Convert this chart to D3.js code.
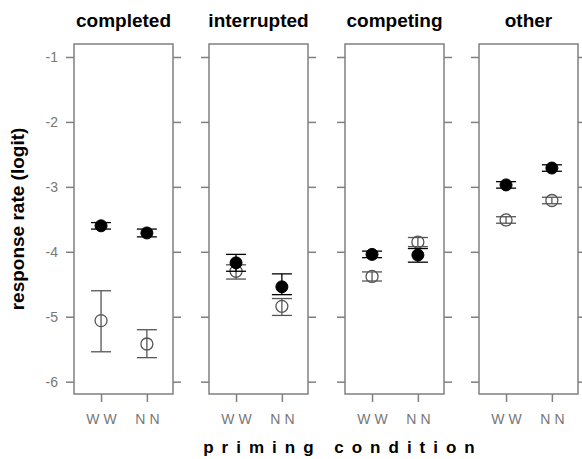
<!DOCTYPE html>
<html>
<head>
<meta charset="utf-8">
<script src="https://cdnjs.cloudflare.com/ajax/libs/d3/7.8.5/d3.min.js"></script>
<style>
  body { margin: 0; background: #fff; }
  svg { display: block; font-family: "Liberation Sans", Arial, sans-serif; }
</style>
</head>
<body>
<svg width="582" height="459"></svg>
<script>
const width = 582, height = 459;
const svg = d3.select("svg");

// panels and conditions
const panels = ["completed", "interrupted", "competing", "other"];
const conditions = ["WW", "NN"];
const yTicks = [-1, -2, -3, -4, -5, -6];

// filled points (mean, lower, upper) per panel, WW then NN
const filledMean  = [[-3.60, -3.71], [-4.17, -4.54], [-4.04, -4.05], [-2.97, -2.71]];
const filledLow   = [[-3.65, -3.77], [-4.30, -4.66], [-4.09, -4.16], [-3.02, -2.76]];
const filledHigh  = [[-3.55, -3.65], [-4.04, -4.34], [-3.99, -3.95], [-2.92, -2.66]];

// open points (mean, lower, upper)
const openMean = [[-5.06, -5.42], [-4.30, -4.84], [-4.38, -3.85], [-3.51, -3.21]];
const openLow  = [[-5.54, -5.63], [-4.42, -4.98], [-4.45, -3.92], [-3.56, -3.26]];
const openHigh = [[-4.60, -5.20], [-4.20, -4.72], [-4.31, -3.78], [-3.46, -3.16]];

const panelLeft = [74, 209, 345, 479];
const panelW = 99;
const plotTop = 44, plotBottom = 394;

const yScale = d3.scaleLinear().domain([-6.19, -0.8]).range([plotBottom, plotTop]);
const frameColor = "#808080";

panels.forEach((name, p) => {
    const x = d3.scaleLinear().domain([0.41, 2.57]).range([panelLeft[p], panelLeft[p] + panelW]);
    const g = svg.append("g");

    // frame
    g.append("rect")
        .attr("x", panelLeft[p]).attr("y", plotTop)
        .attr("width", panelW).attr("height", plotBottom - plotTop)
        .attr("fill", "none").attr("stroke", frameColor).attr("stroke-width", 1.5);

    // left and right ticks
    const left = g.append("g").attr("transform", `translate(${panelLeft[p]},0)`)
        .call(d3.axisLeft(yScale).tickValues(yTicks).tickSize(8)
            .tickFormat(d => p === 0 ? String(d) : ""));
    const right = g.append("g").attr("transform", `translate(${panelLeft[p] + panelW},0)`)
        .call(d3.axisRight(yScale).tickValues(yTicks).tickSize(8).tickFormat(""));
    [left, right].forEach(a => {
        a.select(".domain").remove();
        a.selectAll("line").attr("stroke", frameColor).attr("stroke-width", 1.5);
    });
    left.selectAll("text").attr("fill", "#777").style("font-size", "14px").attr("x", -16);

    // bottom ticks
    const xb = g.append("g").attr("transform", `translate(0,${plotBottom})`)
        .call(d3.axisBottom(x).tickValues([1, 2]).tickSize(8).tickFormat((d, i) => conditions[i]));
    xb.select(".domain").remove();
    xb.selectAll("line").attr("stroke", frameColor).attr("stroke-width", 1.5);
    xb.selectAll("text").attr("fill", "#777").attr("y", 20).attr("dx", "2px")
        .style("font-size", "14px").style("letter-spacing", "4px");

    // title
    svg.append("text")
        .attr("x", panelLeft[p] + panelW / 2).attr("y", 27)
        .attr("text-anchor", "middle")
        .style("font-size", "19px").style("font-weight", "bold")
        .text(name);

    // error bars and points
    const drawSeries = (mean, low, high, stroke, filled) => {
        conditions.forEach((c, i) => {
            const cx = x(i + 1);
            g.append("line").attr("x1", cx).attr("x2", cx)
                .attr("y1", yScale(low[p][i])).attr("y2", yScale(high[p][i]))
                .attr("stroke", stroke).attr("stroke-width", 1.3);
            [low[p][i], high[p][i]].forEach(v => {
                g.append("line").attr("x1", cx - 10).attr("x2", cx + 10)
                    .attr("y1", yScale(v)).attr("y2", yScale(v))
                    .attr("stroke", stroke).attr("stroke-width", 1.3);
            });
            g.append("circle").attr("cx", cx).attr("cy", yScale(mean[p][i]))
                .attr("r", 6)
                .attr("fill", filled ? "#000" : "#fff")
                .attr("fill-opacity", filled ? 1 : 0)
                .attr("stroke", stroke).attr("stroke-width", filled ? 1 : 1.3);
        });
    };
    drawSeries(openMean, openLow, openHigh, "#555", false);
    drawSeries(filledMean, filledLow, filledHigh, "#000", true);
});

// axis titles
svg.append("text")
    .attr("transform", `translate(24,219) rotate(-90)`)
    .attr("text-anchor", "middle")
    .style("font-size", "19px").style("font-weight", "bold")
    .text("response rate (logit)");

svg.append("text")
    .attr("x", 343).attr("y", 453)
    .attr("text-anchor", "middle")
    .style("font-size", "17px").style("font-weight", "bold")
    .style("letter-spacing", "8px")
    .text("priming  condition");
</script>
</body>
</html>
